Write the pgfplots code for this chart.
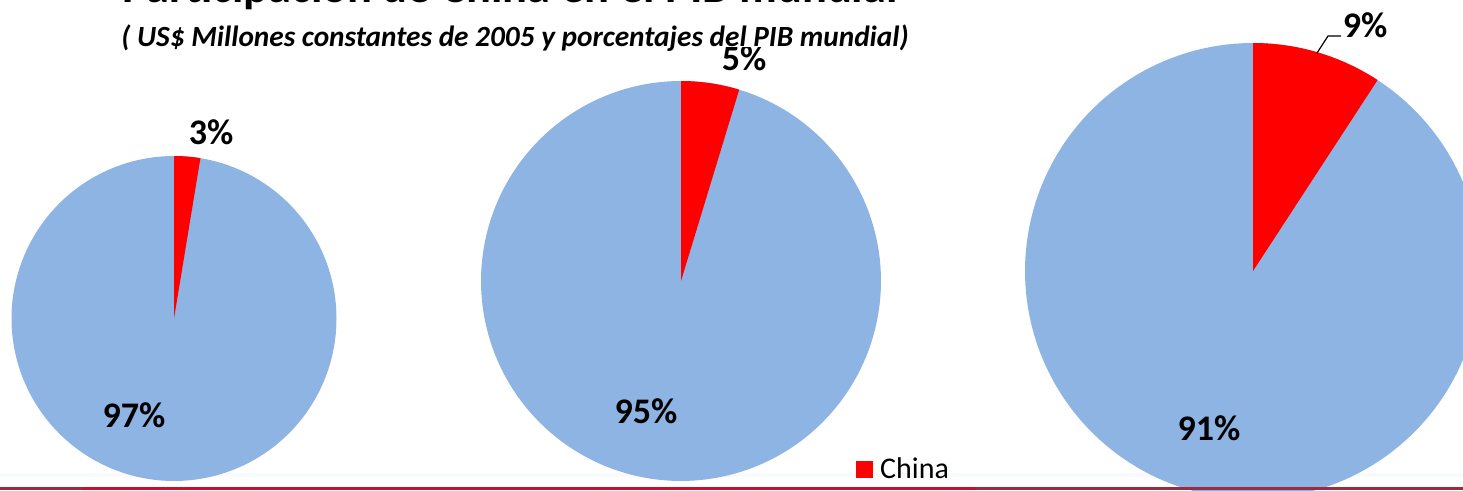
\documentclass[border=0pt]{standalone}
\usepackage{pgfplots}
\pgfplotsset{compat=1.18}
\usepackage{fontspec}
\setmainfont{Carlito}
\definecolor{pieblue}{HTML}{8EB4E3}
\definecolor{piered}{HTML}{FF0000}
\definecolor{linered}{HTML}{CC0E2C}
\definecolor{darkred}{HTML}{9E2A3C}
\definecolor{faint}{HTML}{F8FBFC}
\begin{document}
\begin{tikzpicture}
\path[use as bounding box, clip] (0,0) rectangle (1463pt,490pt);
\begin{axis}[at={(0pt,0pt)}, anchor=south west, scale only axis,
  width=1463pt, height=490pt, xmin=0, xmax=1463, ymin=0, ymax=490,
  axis lines=none, clip=false]
% faint band
\addplot[faint, line width=4pt] coordinates {(0,15) (1463,15)};
% Pie 1: China 2.6 %
\addplot[draw=none, fill=pieblue, domain=0:360, samples=180] ({174+162.5*cos(x)},{171.5+162.5*sin(x)}) -- cycle;
\addplot[draw=none, fill=piered, domain=90-3.6*2.6:90, samples=20] ({174+162.5*cos(x)},{171.5+162.5*sin(x)}) -- (axis cs:174,171.5) -- cycle;
% Pie 2: China 4.7 %
\addplot[draw=none, fill=pieblue, domain=0:360, samples=180] ({681+200*cos(x)},{209+200*sin(x)}) -- cycle;
\addplot[draw=none, fill=piered, domain=90-3.6*4.7:90, samples=20] ({681+200*cos(x)},{209+200*sin(x)}) -- (axis cs:681,209) -- cycle;
% Pie 3: China 9.2 %
\addplot[draw=none, fill=pieblue, domain=0:360, samples=180] ({1253+228*cos(x)},{219+228*sin(x)}) -- cycle;
\addplot[draw=none, fill=piered, domain=90-3.6*9.2:90, samples=30] ({1253+228*cos(x)},{219+228*sin(x)}) -- (axis cs:1253,219) -- cycle;
% leader line
\addplot[black, line width=1.2pt] coordinates {(1317,437) (1328,454) (1341,454)};
% labels
\node[font=\fontsize{36}{38}\selectfont\bfseries] at (axis cs:211,358) {3\%};
\node[font=\fontsize{36}{38}\selectfont\bfseries] at (axis cs:134,75) {97\%};
\node[font=\fontsize{36}{38}\selectfont\bfseries] at (axis cs:744,432) {5\%};
\node[font=\fontsize{36}{38}\selectfont\bfseries] at (axis cs:646,79) {95\%};
\node[font=\fontsize{36}{38}\selectfont\bfseries] at (axis cs:1209,62) {91\%};
\node[font=\fontsize{36}{38}\selectfont\bfseries] at (axis cs:1365,465) {9\%};
% title and subtitle
\node[anchor=base, font=\fontsize{46.5}{48}\selectfont\bfseries] at (axis cs:510,487.5) {Participación de China en el PIB mundial};
\node[anchor=base, fill=white, inner sep=0pt, text depth=0pt, font=\fontsize{29.3}{31}\selectfont\bfseries\itshape] at (axis cs:515,443) {( US\$ Millones constantes de 2005 y porcentajes del PIB mundial)};
% legend
\node[anchor=west, inner sep=0pt, font=\fontsize{30}{32}\selectfont] at (axis cs:856,22) {\textcolor{piered}{\rule{17pt}{17pt}}\hspace{7pt}China};
% bottom lines
\addplot[darkred, line width=3.5pt] coordinates {(0,1.5) (1463,1.5)};
\addplot[linered, line width=3.5pt] coordinates {(82,1.5) (975,1.5)};
\end{axis}
\end{tikzpicture}
\end{document}
